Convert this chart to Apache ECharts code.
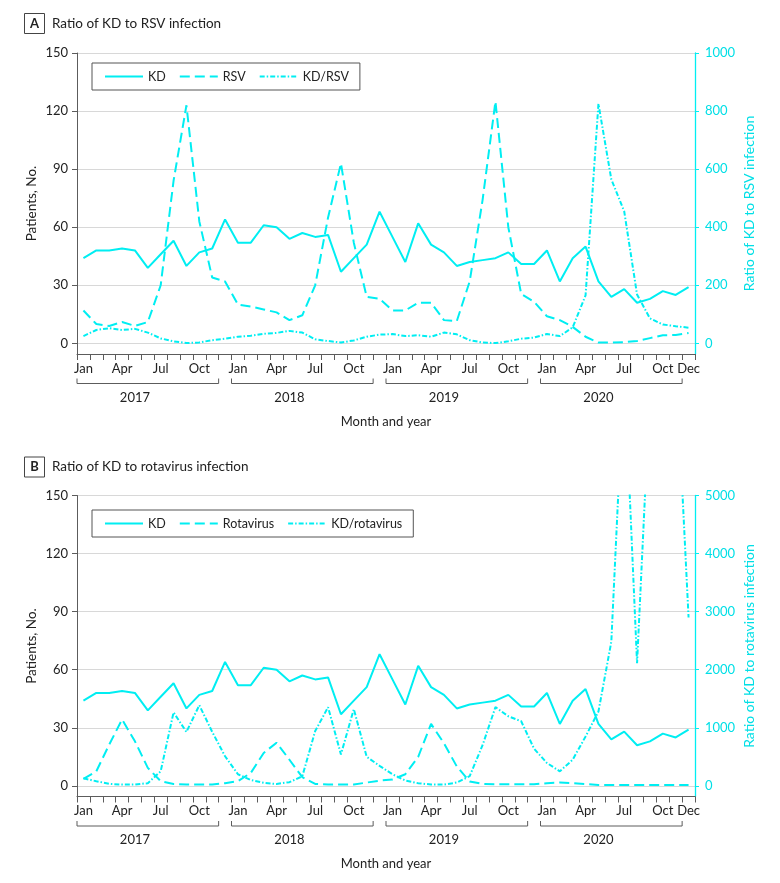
<!DOCTYPE html>
<html>
<head>
<meta charset="utf-8">
<script src="https://cdn.jsdelivr.net/npm/echarts@6/dist/echarts.min.js"></script>
<style>
html,body{margin:0;padding:0;background:#fff;}
#c{width:780px;height:883px;}
</style>
</head>
<body>
<div id="c"></div>
<script>
// ---------- data ----------
const monthNames = ['Jan','Feb','Mar','Apr','May','Jun','Jul','Aug','Sep','Oct','Nov','Dec'];
const years = ['2017','2018','2019','2020'];
const categories = [];
years.forEach(function (y) { monthNames.forEach(function (m) { categories.push(m); }); });
const shownMonthLabels = ['Jan','Apr','Jul','Oct'];

const kd = [44,48,48,49,48,39,46,53,40,47,49,64,
            52,52,61,60,54,57,55,56,37,44,51,68,
            55,42,62,51,47,40,42,43,44,47,41,41,
            48,32,44,50,32,24,28,21,23,27,25,29];

const rsv = [17,10,9,11,9,11,30,84,123,63,34,32,
             20,19,17.5,16,12,14.5,30,65,93,52,24,23,
             17,17,21,21,12,11.5,32,74,125,60,25.5,21.5,
             14,12,8.5,3.4,0.4,0.4,0.6,1.2,2.7,4.2,4.3,5.3];

const kdRsvRatio = [25,46,52,46,50,37,17,7,1,3,11,16,
                    23,26,33,36,43,37,14,8,3,10,23,30,
                    32,25,28,23,37,31,11,3,1,7,16,20,
                    32,25,55,165,825,565,455,168,86,65,59,54];

const rotavirus = [3.6,7.5,21.3,34.3,23,9.3,2.4,1,0.7,0.7,0.7,1.4,
                   2.4,6.7,17,22.3,13.5,4.5,1,0.7,0.7,0.7,1.7,2.7,
                   3.3,6,15,32,22,10,2.3,1,0.8,0.8,0.8,0.8,
                   1.4,1.7,1.4,0.9,0.5,0.5,0.5,0.5,0.5,0.5,0.5,0.5];

const kdRotaRatio = [130,80,34,23,23,46,251,1265,928,1389,930,510,
                     200,100,52,32,64,165,943,1355,540,1322,500,345,
                     200,92,46,23,23,57,167,700,1356,1198,1112,640,
                     394,250,450,850,1280,2480,7200,2110,6800,8000,7400,2900];

const patientTicks = [0,30,60,90,120,150];
const ratioTicksA = [0,200,400,600,800,1000];
const ratioTicksB = [0,1000,2000,3000,4000,5000];

// ---------- style ----------
const FONT = 'Lato';
const CYAN = '#00eef2';
const CYAN_TXT = '#00dfe6';
const AXIS_GRAY = '#5c5c5c';
const TXT = '#222';
const DASH = [10, 5];
const DASHDOT = [5, 2, 1.5, 2];

const chart = echarts.init(document.getElementById('c'), null, {renderer: 'canvas'});

function plain(v) { return String(v); }

function xAxisCfg(gi) {
  return {
    type: 'category', gridIndex: gi, data: categories, boundaryGap: true,
    axisLine: {show: true, onZero: false, lineStyle: {color: AXIS_GRAY, width: 1}},
    axisTick: {show: true, interval: 0, length: 6, lineStyle: {color: AXIS_GRAY}},
    axisLabel: {
      margin: 8, fontSize: 13, color: TXT, fontFamily: FONT,
      interval: function (idx, val) {
        return shownMonthLabels.indexOf(val) >= 0 || idx === categories.length - 1;
      }
    },
    splitLine: {show: false},
    name: 'Month and year', nameLocation: 'middle', nameGap: 61, nameMoveOverlap: false,
    nameTextStyle: {fontSize: 13, color: TXT, fontFamily: FONT}
  };
}
function leftAxisCfg(gi) {
  return {
    type: 'value', gridIndex: gi, position: 'left', min: -5.5, max: 150,
    axisLine: {show: true, lineStyle: {color: AXIS_GRAY, width: 1}},
    axisTick: {show: true, length: 5, customValues: patientTicks, lineStyle: {color: AXIS_GRAY}},
    axisLabel: {customValues: patientTicks, margin: 9, fontSize: 13, color: TXT, fontFamily: FONT, formatter: plain},
    splitLine: {show: true, lineStyle: {color: '#d8d8d8', width: 1}},
    name: 'Patients, No.', nameLocation: 'middle', nameGap: 38, nameMoveOverlap: false,
    nameTextStyle: {fontSize: 13.5, color: TXT, fontFamily: FONT}
  };
}
function rightAxisCfg(gi, ticks, name) {
  const mx = ticks[ticks.length - 1];
  return {
    type: 'value', gridIndex: gi, position: 'right', min: -5.5 / 150 * mx, max: mx,
    axisLine: {show: true, lineStyle: {color: CYAN, width: 1.3}},
    axisTick: {show: true, length: 4, customValues: ticks, lineStyle: {color: CYAN}},
    axisLabel: {customValues: ticks, margin: 10, fontSize: 13, color: CYAN_TXT, fontFamily: FONT, formatter: plain},
    splitLine: {show: false},
    name: name, nameLocation: 'middle', nameGap: 47, nameMoveOverlap: false,
    nameTextStyle: {fontSize: 14, color: CYAN_TXT, fontFamily: FONT}
  };
}
function lineSeries(name, gi, yi, data, dash) {
  return {
    name: name, type: 'line', xAxisIndex: gi, yAxisIndex: yi, data: data,
    symbol: 'none', showSymbol: false, clip: true,
    lineStyle: {color: CYAN, width: 2, type: dash || 'solid'},
    itemStyle: {color: CYAN}
  };
}
function legendCfg(names, top) {
  return {
    data: names, left: 92, top: top, orient: 'horizontal',
    borderColor: '#555', borderWidth: 1, padding: [7, 11, 7, 12],
    itemWidth: 38, itemHeight: 14, itemGap: 13, selectedMode: false,
    itemStyle: {opacity: 0},
    textStyle: {fontSize: 12.5, color: TXT, fontFamily: FONT}
  };
}

chart.setOption({
  animation: false,
  backgroundColor: '#fff',
  textStyle: {fontFamily: FONT},
  grid: [
    {left: 77, right: 85, top: 53, height: 301},
    {left: 77, right: 85, top: 495.5, height: 301}
  ],
  xAxis: [xAxisCfg(0), xAxisCfg(1)],
  yAxis: [
    leftAxisCfg(0), rightAxisCfg(0, ratioTicksA, 'Ratio of KD to RSV infection'),
    leftAxisCfg(1), rightAxisCfg(1, ratioTicksB, 'Ratio of KD to rotavirus infection')
  ],
  legend: [
    legendCfg(['KD', 'RSV', 'KD/RSV'], 63),
    legendCfg(['KD', 'Rotavirus', 'KD/rotavirus'], 510)
  ],
  series: [
    lineSeries('KD', 0, 0, kd),
    lineSeries('RSV', 0, 0, rsv, DASH),
    lineSeries('KD/RSV', 0, 1, kdRsvRatio, DASHDOT),
    lineSeries('KD', 1, 2, kd),
    lineSeries('Rotavirus', 1, 2, rotavirus, DASH),
    lineSeries('KD/rotavirus', 1, 3, kdRotaRatio, DASHDOT)
  ]
});

// ---------- decorations: panel titles, year brackets ----------
const gfx = [];
function panelTitle(letter, title, cy) {
  gfx.push({type: 'rect', shape: {x: 24.5, y: cy - 10, width: 20, height: 20},
            style: {fill: 'none', stroke: '#444', lineWidth: 1}});
  gfx.push({type: 'text', x: 34.5, y: cy,
            style: {text: letter, fill: TXT, font: 'bold 13px ' + FONT, textAlign: 'center', textVerticalAlign: 'middle'}});
  gfx.push({type: 'text', x: 52, y: cy,
            style: {text: title, fill: TXT, font: '13.5px ' + FONT, textAlign: 'left', textVerticalAlign: 'middle'}});
}
panelTitle('A', 'Ratio of KD to RSV infection', 23.5);
panelTitle('B', 'Ratio of KD to rotavirus infection', 467);

[0, 1].forEach(function (gi) {
  const px = function (i) { return chart.convertToPixel({xAxisIndex: gi}, i); };
  const band = px(1) - px(0);
  const axisY = chart.convertToPixel({yAxisIndex: gi * 2}, -5.5);
  const yb = axisY + 29.5;
  years.forEach(function (yr, k) {
    const xL = px(12 * k) - band / 2;
    const xR = px(12 * k + 11) - band / 2;
    gfx.push({type: 'polyline', shape: {points: [[xL, yb - 5], [xL, yb], [xR, yb], [xR, yb - 5]]},
              style: {fill: 'none', stroke: AXIS_GRAY, lineWidth: 1}});
    gfx.push({type: 'text', x: px(12 * k + 4), y: axisY + 43.5,
              style: {text: yr, fill: TXT, font: '13px ' + FONT, textAlign: 'center', textVerticalAlign: 'middle'}});
  });
});
chart.setOption({graphic: gfx});
</script>
</body>
</html>
